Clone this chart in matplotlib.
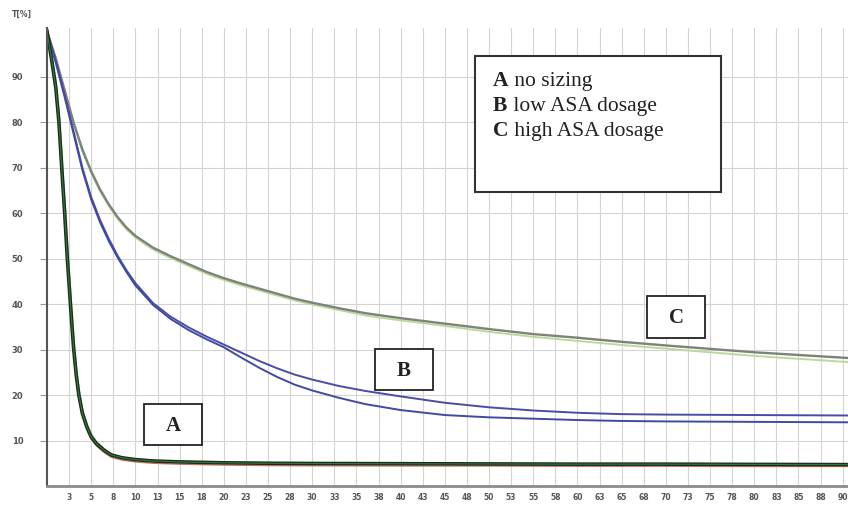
import matplotlib
matplotlib.use("Agg")
import matplotlib.pyplot as plt
from matplotlib.patches import Rectangle

# curve A (no sizing) - three overlapping replicates
t_a = [0, 0.5, 1, 1.35, 1.7, 2, 2.3, 2.65, 3, 3.3, 3.6, 4, 4.5, 5, 5.6, 6.5, 7.3, 8.5,
       10, 12, 15, 20, 25, 30, 40, 50, 60, 70, 80, 91]
a_dark = [100, 94, 87.5, 80, 69, 60, 50, 40, 30.5, 24.5, 20, 16, 13, 10.8, 9.3, 7.8, 6.8, 6.2,
          5.8, 5.5, 5.3, 5.1, 5.0, 4.95, 4.9, 4.85, 4.8, 4.8, 4.75, 4.7]
a_green = [100, 95, 89, 82, 72, 63, 53, 43, 33, 26.5, 21.5, 17, 13.8, 11.4, 9.7, 8.1, 7.0, 6.3,
           5.9, 5.6, 5.4, 5.2, 5.1, 5.05, 5.0, 4.95, 4.9, 4.9, 4.85, 4.8]
a_red = [100, 94, 87, 79, 68, 59, 49, 39, 29.5, 23.5, 19.3, 15.5, 12.5, 10.3, 8.8, 7.3, 6.3, 5.7,
         5.3, 5.0, 4.8, 4.6, 4.5, 4.45, 4.4, 4.4, 4.35, 4.35, 4.3, 4.3]

# curves B (low ASA) and C (high ASA)
t_bc = [0, 1, 2, 3, 4, 5, 6, 7, 8, 9, 10,
        12, 14, 16, 18, 20, 22, 24, 26, 28,
        30, 33, 36, 40, 45, 50, 55, 60, 65, 70, 80, 91]
b_upper = [100, 93.5, 86, 78, 70, 63.5, 58.5, 54.3, 50.6, 47.4, 44.6,
           40.2, 37.2, 34.9, 32.9, 31.1, 29.3, 27.5, 25.9, 24.5,
           23.4, 22.0, 20.9, 19.7, 18.3, 17.3, 16.6, 16.1, 15.8, 15.7, 15.6, 15.5]
b_lower = [100, 93, 85.5, 77.5, 69.5, 63, 58, 53.8, 50.2, 47, 44.1,
           39.8, 36.7, 34.3, 32.3, 30.5, 28.2, 26.0, 24.0, 22.3,
           21.0, 19.4, 18.0, 16.7, 15.6, 15.1, 14.8, 14.5, 14.3, 14.2, 14.1, 14.0]
c_gray = [100, 94, 87, 80, 74, 69.2, 65.2, 61.9, 59.1, 56.8, 55,
          52.4, 50.5, 48.8, 47.1, 45.7, 44.5, 43.4, 42.3, 41.2,
          40.3, 39.1, 38.0, 36.9, 35.7, 34.5, 33.4, 32.6, 31.7, 30.9, 29.4, 28.1]
c_green = [100, 93.6, 86.6, 79.6, 73.6, 68.8, 64.8, 61.5, 58.7, 56.4, 54.6,
           52.0, 50.1, 48.4, 46.7, 45.3, 44.1, 43.0, 41.9, 40.8,
           39.9, 38.7, 37.5, 36.4, 35.2, 33.9, 32.8, 31.9, 31.0, 30.2, 28.6, 27.2]

x_ticks = [2.5 * i for i in range(1, 37)]
x_labels = [str(int(v + 0.5)) for v in x_ticks]
y_ticks = [10, 20, 30, 40, 50, 60, 70, 80, 90]

legend_keys = ["A", "B", "C"]
legend_texts = [" no sizing", " low ASA dosage", " high ASA dosage"]

fig = plt.figure(figsize=(8.48, 5.05), dpi=100)
ax = fig.add_axes([47 / 848, 19 / 505, 801 / 848, 458 / 505])

ax.plot(t_bc, c_green, color="#bcd99c", lw=1.4)
ax.plot(t_bc, c_gray, color="#7d827a", lw=1.7)
ax.plot(t_bc, b_upper, color="#4b4ba6", lw=1.4)
ax.plot(t_bc, b_lower, color="#3f4aa0", lw=1.4)
ax.plot(t_a, a_red, color="#c87060", lw=1.0)
ax.plot(t_a, a_green, color="#7fd97f", lw=1.2)
ax.plot(t_a, a_dark, color="#1c2b1c", lw=2.6)
ax.plot(t_a, a_dark, color="#2f7a3a", lw=0.8)

ax.set_xlim(0, 90.6)
ax.set_ylim(0, 100.7)
ax.set_xticks(x_ticks)
ax.set_xticklabels(x_labels)
ax.set_yticks(y_ticks)
ax.grid(True, color="#d4d4d4", lw=0.8)
ax.set_axisbelow(True)
ax.tick_params(axis="x", length=0, pad=5, labelsize=5.5, labelcolor="#555555")
ax.tick_params(axis="y", length=5, width=0.8, color="#999999", pad=12, labelsize=6,
               labelcolor="#555555")
for lab in ax.get_xticklabels() + ax.get_yticklabels():
    lab.set_fontweight("bold")
ax.spines["top"].set_visible(False)
ax.spines["right"].set_visible(False)
ax.spines["left"].set_color("#555555")
ax.spines["left"].set_linewidth(1.5)
ax.spines["bottom"].set_color("#8a8a8a")
ax.spines["bottom"].set_linewidth(2)

fig.text(12 / 848, 1 - 14 / 505, "T[%]", fontsize=5.5, color="#555555", fontweight="bold",
         va="center")

# letter boxes (axes fraction)
serif = "Liberation Serif"
for key, x0, y0 in [("A", 0.121, 0.089), ("B", 0.409, 0.209), ("C", 0.749, 0.324)]:
    ax.add_patch(Rectangle((x0, y0), 0.073, 0.091, transform=ax.transAxes, fill=True,
                           facecolor="white", edgecolor="#222222", lw=1.3, zorder=5))
    ax.text(x0 + 0.0365, y0 + 0.042, key, transform=ax.transAxes, fontsize=15,
            fontweight="bold", family=serif, ha="center", va="center", color="#222222",
            zorder=6)

# legend box
ax.add_patch(Rectangle((0.534, 0.642), 0.308, 0.296, transform=ax.transAxes,
                       facecolor="white", edgecolor="#333333", lw=1.5, zorder=5))
for i, (k, s) in enumerate(zip(legend_keys, legend_texts)):
    t = ax.text(0.557, 0.874 - i * 0.0546, k, transform=ax.transAxes, fontsize=15.5,
                fontweight="bold", family=serif, va="baseline", color="#222222", zorder=6)
    ax.annotate(s, xy=(1, 0), xycoords=t, fontsize=15.5, family=serif, va="bottom",
                color="#222222", zorder=6)

fig.savefig("out.png", dpi=100)
